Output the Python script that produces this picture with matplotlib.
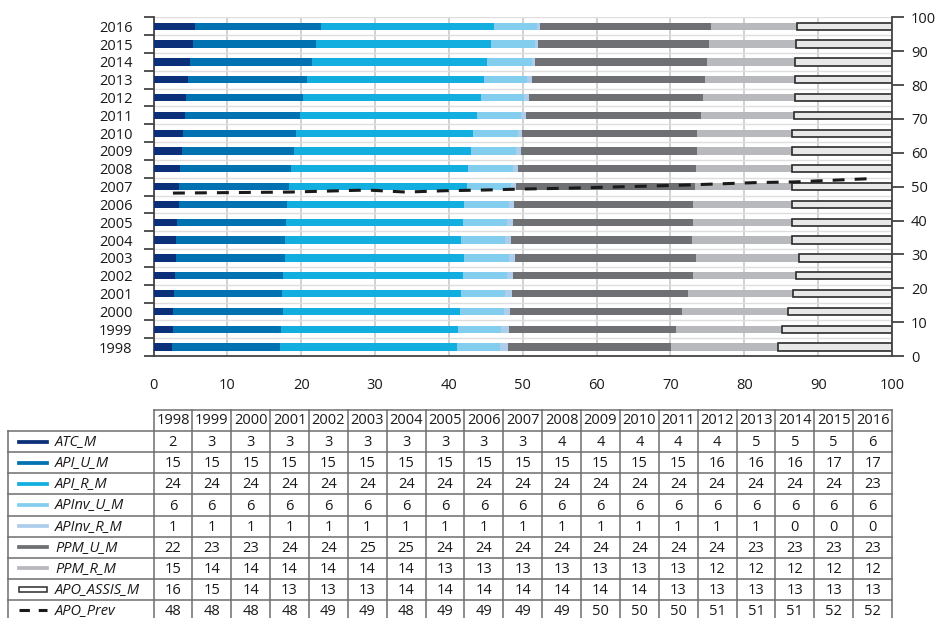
import numpy as np
import matplotlib
matplotlib.use("Agg")
import matplotlib.pyplot as plt
from matplotlib.patches import Rectangle
from matplotlib.lines import Line2D

plt.rcParams['font.family'] = ['Open Sans', 'DejaVu Sans']

# ---------- data ----------
YEARS = [1998, 1999, 2000, 2001, 2002, 2003, 2004, 2005, 2006, 2007,
         2008, 2009, 2010, 2011, 2012, 2013, 2014, 2015, 2016]

# bar segment widths (%)
ATC_M = [2.5, 2.6, 2.7, 2.8, 2.9, 3.0, 3.1, 3.2, 3.4, 3.5, 3.6, 3.9, 4.0, 4.2, 4.4, 4.7, 5.0, 5.3, 5.6]
API_U_M = [14.6, 14.7, 14.8, 14.6, 14.6, 14.8, 14.7, 14.8, 14.7, 14.9, 15.0, 15.1, 15.3, 15.6, 15.8, 16.1, 16.4, 16.7, 17.1]
API_R_M = [24.0, 23.9, 24.0, 24.3, 24.4, 24.3, 23.8, 23.9, 23.9, 24.0, 24.0, 24.0, 24.0, 24.0, 24.1, 24.0, 23.8, 23.7, 23.4]
APINV_U_M = [5.8, 5.9, 5.9, 5.9, 5.9, 6.0, 6.0, 6.0, 6.1, 6.0, 6.1, 6.1, 6.0, 6.0, 5.9, 5.8, 6.0, 5.9, 5.8]
APINV_R_M = [1.1, 1.0, 0.9, 1.0, 0.9, 0.8, 0.8, 0.8, 0.7, 0.7, 0.6, 0.6, 0.6, 0.6, 0.6, 0.6, 0.4, 0.4, 0.4]
PPM_U_M = [22.1, 22.6, 23.3, 23.8, 24.3, 24.6, 24.5, 24.3, 24.3, 24.2, 24.1, 23.9, 23.7, 23.7, 23.6, 23.5, 23.3, 23.2, 23.2]
PPM_R_M = [14.5, 14.4, 14.3, 14.2, 14.0, 13.9, 13.6, 13.4, 13.3, 13.2, 13.0, 12.9, 12.8, 12.6, 12.4, 12.2, 12.0, 11.8, 11.6]
APO_ASSIS_M = [15.4, 14.9, 14.1, 13.4, 13.0, 12.6, 13.5, 13.6, 13.6, 13.5, 13.6, 13.5, 13.6, 13.3, 13.2, 13.1, 13.1, 13.0, 12.9]
APO_PREV = [48.1, 48.2, 48.3, 48.4, 48.7, 49.0, 48.4, 48.8, 49.0, 49.3, 49.5, 49.8, 50.1, 50.4, 50.8, 51.2, 51.4, 51.9, 52.4]

# values printed in the table
T_ATC_M = [2, 3, 3, 3, 3, 3, 3, 3, 3, 3, 4, 4, 4, 4, 4, 5, 5, 5, 6]
T_API_U_M = [15, 15, 15, 15, 15, 15, 15, 15, 15, 15, 15, 15, 15, 15, 16, 16, 16, 17, 17]
T_API_R_M = [24, 24, 24, 24, 24, 24, 24, 24, 24, 24, 24, 24, 24, 24, 24, 24, 24, 24, 23]
T_APINV_U_M = [6, 6, 6, 6, 6, 6, 6, 6, 6, 6, 6, 6, 6, 6, 6, 6, 6, 6, 6]
T_APINV_R_M = [1, 1, 1, 1, 1, 1, 1, 1, 1, 1, 1, 1, 1, 1, 1, 1, 0, 0, 0]
T_PPM_U_M = [22, 23, 23, 24, 24, 25, 25, 24, 24, 24, 24, 24, 24, 24, 24, 23, 23, 23, 23]
T_PPM_R_M = [15, 14, 14, 14, 14, 14, 14, 13, 13, 13, 13, 13, 13, 13, 12, 12, 12, 12, 12]
T_APO_ASSIS_M = [16, 15, 14, 13, 13, 13, 14, 14, 14, 14, 14, 14, 14, 13, 13, 13, 13, 13, 13]
T_APO_PREV = [48, 48, 48, 48, 49, 49, 48, 49, 49, 49, 49, 50, 50, 50, 51, 51, 51, 52, 52]

NAMES = ['ATC_M', 'API_U_M', 'API_R_M', 'APInv_U_M', 'APInv_R_M',
         'PPM_U_M', 'PPM_R_M', 'APO_ASSIS_M', 'APO_Prev']
COLORS = ['#0b2f78', '#0072b1', '#12aee0', '#83cdee', '#aecdec',
          '#6f7074', '#b8b9bd', '#e8e8e8', '#1a1a1a']

series = [ATC_M, API_U_M, API_R_M, APINV_U_M, APINV_R_M, PPM_U_M, PPM_R_M, APO_ASSIS_M]
table_rows = [T_ATC_M, T_API_U_M, T_API_R_M, T_APINV_U_M, T_APINV_R_M,
              T_PPM_U_M, T_PPM_R_M, T_APO_ASSIS_M, T_APO_PREV]

FS = 10.5

# ---------- figure ----------
W, H = 938, 618
fig = plt.figure(figsize=(W / 100, H / 100), dpi=100)

AX_L, AX_R = 153.5, 892.0      # px
AX_T, AX_B = 17.3, 356.0
ax = fig.add_axes([AX_L / W, 1 - AX_B / H, (AX_R - AX_L) / W, (AX_B - AX_T) / H])

y = np.arange(len(YEARS))
left = np.zeros(len(YEARS))
for i, vals in enumerate(series):
    vals = np.array(vals)
    if NAMES[i] == 'APO_ASSIS_M':
        ax.barh(y, vals, left=left, height=0.41, color=COLORS[i],
                edgecolor='#2b2b2b', linewidth=1.2, zorder=3)
    else:
        ax.barh(y, vals, left=left, height=0.41, color=COLORS[i],
                linewidth=0, zorder=3)
    left += vals

ax.set_xlim(0, 100)
ax.set_ylim(-0.5, len(YEARS) - 0.5)
ax.set_xticks(np.arange(0, 101, 10))
ax.set_xticks([0, 100], minor=True)
ax.set_yticks(y)
ax.set_yticklabels([str(v) for v in YEARS])
ax.set_yticks(np.arange(-0.5, len(YEARS)), minor=True)

ax.tick_params(axis='x', which='major', length=0, pad=16, labelsize=FS, labelcolor='#1a1a1a')
ax.tick_params(axis='x', which='minor', length=8.6, width=1.3, color='#444444')
ax.tick_params(axis='y', which='major', length=0, pad=15, labelsize=FS, labelcolor='#1a1a1a')
ax.tick_params(axis='y', which='minor', length=7.5, width=1.3, color='#444444')

ax.grid(axis='x', which='major', color='#c9c9c9', linewidth=1.2, zorder=0)
ax.grid(axis='y', which='minor', color='#dedede', linewidth=1.0, zorder=0)
ax.set_axisbelow(True)
for s in ['top', 'right']:
    ax.spines[s].set_visible(False)
for s in ['left', 'bottom']:
    ax.spines[s].set_color('#444444')
    ax.spines[s].set_linewidth(1.3)

# right axis + APO_Prev line (x = table column centres)
ax2 = ax.twinx()
ax2.set_ylim(0, 100)
ax2.set_yticks(np.arange(0, 101, 10))
ax2.tick_params(axis='y', length=8.6, width=1.3, color='#444444', pad=5,
                labelsize=FS, labelcolor='#1a1a1a')
for s in ['top', 'left', 'bottom']:
    ax2.spines[s].set_visible(False)
ax2.spines['right'].set_color('#444444')
ax2.spines['right'].set_linewidth(1.3)

n = len(YEARS)
col_w = 100 / n
xc = (np.arange(n) + 0.5) * col_w
ax2.plot(xc, APO_PREV, color=COLORS[8], linewidth=2.2,
         linestyle=(0, (3.9, 3.3)), zorder=5)

# ---------- table ----------
ROW_H = 21.1
TAB_T = 410.0
n_rows = len(table_rows) + 1
tab = fig.add_axes([AX_L / W, 1 - (TAB_T + n_rows * ROW_H) / H,
                    (AX_R - AX_L) / W, n_rows * ROW_H / H])
tab.set_xlim(0, 100)
tab.set_ylim(n_rows, 0)
tab.axis('off')

px = 100 / (AX_R - AX_L)          # data units per pixel
x_left = (8 - AX_L) * px
grid_kw = dict(color='#6e6e6e', linewidth=1.1, clip_on=False)

tab.plot([0, 100], [0, 0], **grid_kw)
for r in range(1, n_rows + 1):
    tab.plot([x_left, 100], [r, r], **grid_kw)
for c in range(n + 1):
    tab.plot([c * col_w, c * col_w], [0, n_rows], **grid_kw)
tab.plot([x_left, x_left], [1, n_rows], **grid_kw)

txt_kw = dict(ha='center', va='center', fontsize=FS, color='#1a1a1a')
for c, yr in enumerate(YEARS):
    tab.text(xc[c], 0.5, str(yr), **txt_kw)
for r, vals in enumerate(table_rows, start=1):
    for c, v in enumerate(vals):
        tab.text(xc[c], r + 0.55, str(v), **txt_kw)

sw0, sw1 = (19 - AX_L) * px, (47 - AX_L) * px
for r, name in enumerate(NAMES, start=1):
    yy = r + 0.5
    if name == 'APO_ASSIS_M':
        tab.add_patch(Rectangle((sw0, yy - 0.12), sw1 - sw0, 0.24,
                                facecolor='white', edgecolor='#2b2b2b',
                                linewidth=1.1, clip_on=False))
    elif name == 'APO_Prev':
        tab.add_line(Line2D([sw0, sw1], [yy, yy], color=COLORS[8], linewidth=2.2,
                            linestyle=(0, (3.4, 2.9)), clip_on=False))
    else:
        tab.add_line(Line2D([sw0, sw1], [yy, yy], color=COLORS[r - 1],
                            linewidth=2.7, clip_on=False))
    tab.text((55 - AX_L) * px, yy, name, ha='left', va='center', fontsize=FS,
             style='italic', color='#1a1a1a')

fig.savefig('out.png', dpi=100)
